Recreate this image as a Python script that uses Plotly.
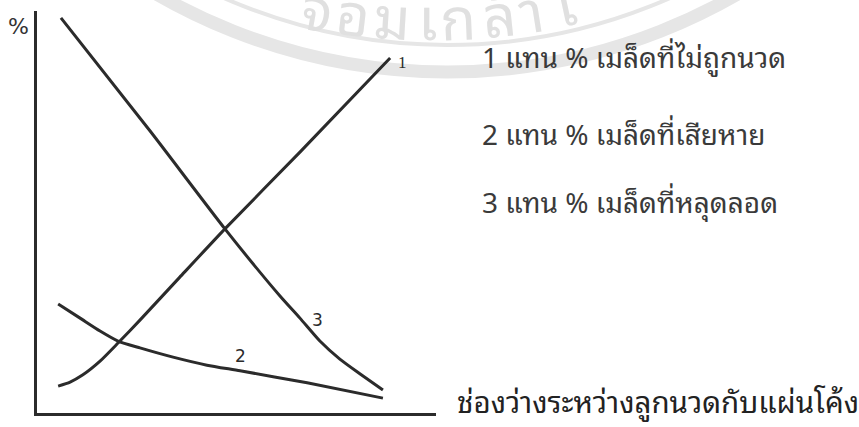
import math
import plotly.graph_objects as go

# Curve 1: unthreshed seeds (%)
gap_1 = [5.3, 8.3, 11.5, 15.8, 20.3, 25.8, 35.8, 47.1, 65.9, 88.5]
pct_1 = [6.7, 7.7, 9.5, 12.9, 17.4, 23.1, 33.8, 45.8, 64.9, 88.3]

# Curve 2: damaged seeds (%)
gap_2 = [5.3, 10.8, 15.8, 20.3, 25.8, 34.1, 42.6, 50.9, 67.7, 86.7]
pct_2 = [27.1, 23.6, 20.4, 17.9, 16.2, 13.9, 11.9, 10.5, 7.5, 3.7]

# Curve 3: escaped seeds (%)
gap_3 = [6.0, 28.3, 47.1, 60.9, 65.9, 70.9, 75.9, 81.0, 86.7]
pct_3 = [98.3, 70.2, 45.8, 29.1, 23.6, 17.9, 13.4, 9.7, 5.7]

curve_labels = ["1", "2", "3"]
legend_lines = [
    "1 แทน % เมล็ดที่ไม่ถูกนวด",
    "2 แทน % เมล็ดที่เสียหาย",
    "3 แทน % เมล็ดที่หลุดลอด",
]
x_title = "ช่องว่างระหว่างลูกนวดกับแผ่นโค้ง"
y_title = "%"
watermark_glyphs = ["จ", "อ", "ม", "เ", "ก", "ล้", "า", "เ"]

W, H = 859, 427
L, R, T, B = 37, 423, 11, 14
ink = "#2b2b2b"
thai_font = "Noto Sans Thai Looped, Tahoma, Loma, Garuda, Noto Sans Thai, sans-serif"

fig = go.Figure()
for gx, py in [(gap_1, pct_1), (gap_2, pct_2), (gap_3, pct_3)]:
    fig.add_trace(go.Scatter(
        x=gx, y=py, mode="lines",
        line=dict(color=ink, width=3, shape="spline", smoothing=0.6),
        hoverinfo="skip", showlegend=False, cliponaxis=False,
    ))


def px_to_paper(px, py):
    """Convert a page pixel position into paper coordinates."""
    return (px - L) / (W - L - R), (H - B - py) / (H - T - B)


# faint circular watermark rings behind the chart
for (cx, cy, r, w) in [(447, -508, 580, 13), (447, -508, 553, 4)]:
    x0, y0 = px_to_paper(cx - r, cy + r)
    x1, y1 = px_to_paper(cx + r, cy - r)
    fig.add_shape(type="circle", xref="paper", yref="paper",
                  x0=x0, x1=x1, y0=y0, y1=y1, layer="below",
                  line=dict(color="#e6e6e6", width=w))

# watermark lettering set along an arc
ring_cx, ring_cy, ring_r = 430, -600, 637
glyph_size = 58
glyph_x = [318, 354, 392, 428, 458, 498, 530, 565]
for g, gxp in zip(watermark_glyphs, glyph_x):
    dx = gxp - ring_cx
    base_y = ring_cy + math.sqrt(ring_r ** 2 - dx ** 2)
    ang = math.degrees(math.asin(dx / ring_r))
    ax, ay = px_to_paper(gxp, base_y - 23)
    fig.add_annotation(x=ax, y=ay, xref="paper", yref="paper", text=g,
                       showarrow=False, xanchor="center", yanchor="middle",
                       textangle=-ang,
                       font=dict(family=thai_font, size=glyph_size, color="#e0e0e0"))

# numbers written next to the curves
label_pos = [(91.5, 87.3), (50.9, 14.2), (70.4, 23.1)]
label_fonts = ["Liberation Serif", "DejaVu Sans", "DejaVu Sans"]
for lab, (lx, ly), lf in zip(curve_labels, label_pos, label_fonts):
    fig.add_annotation(x=lx, y=ly, text=lab, showarrow=False,
                       font=dict(family=lf, size=17, color=ink))

# explanatory text on the right
for line, ty in zip(legend_lines, [56, 132, 201]):
    ax, ay = px_to_paper(480, ty)
    fig.add_annotation(x=ax, y=ay, xref="paper", yref="paper", text=line,
                       showarrow=False, xanchor="left", yanchor="middle",
                       font=dict(family=thai_font, size=28, color="#3a3a3a"))

ax, ay = px_to_paper(455, 399)
fig.add_annotation(x=ax, y=ay, xref="paper", yref="paper", text=x_title,
                   showarrow=False, xanchor="left", yanchor="middle",
                   font=dict(family=thai_font, size=29.5, color="#222222"))
ax, ay = px_to_paper(18.5, 26.5)
fig.add_annotation(x=ax, y=ay, xref="paper", yref="paper", text=y_title,
                   showarrow=False, xanchor="center", yanchor="middle",
                   font=dict(family="DejaVu Sans", size=22, color="#333333"))

axis_common = dict(showgrid=False, zeroline=False, showticklabels=False,
                   ticks="", showline=True, linecolor=ink, linewidth=3)
fig.update_xaxes(range=[0, 100], **axis_common)
fig.update_yaxes(range=[0, 100], **axis_common)
fig.update_layout(width=W, height=H, margin=dict(l=L, r=R, t=T, b=B),
                  paper_bgcolor="white", plot_bgcolor="rgba(0,0,0,0)")

fig.write_html("out.html")
